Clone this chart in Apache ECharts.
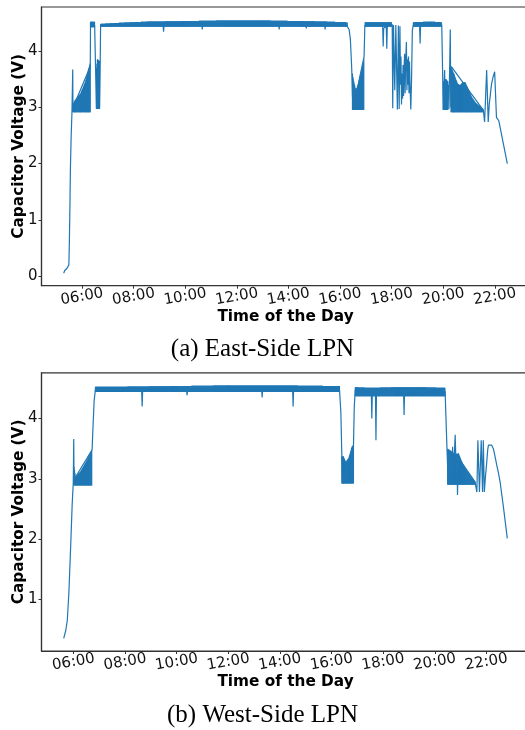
<!DOCTYPE html>
<html>
<head>
<meta charset="utf-8">
<script src="https://cdn.jsdelivr.net/npm/echarts@6/dist/echarts.min.js"></script>
<style>
  html, body { margin: 0; padding: 0; background: #fff; }
  #chart { width: 525px; height: 730px; }
</style>
</head>
<body>
<div id="chart"></div>
<script>
// Time of day in decimal hours, capacitor voltage in volts.
const hourTicks = [6, 8, 10, 12, 14, 16, 18, 20, 22];
const eastVoltTicks = [0, 1, 2, 3, 4];
const westVoltTicks = [1, 2, 3, 4];

// East-side node: sampled trace [hour, volts]
const eastTrace = [
  [5.29, 0.05], [5.33, 0.10], [5.38, 0.13], [5.42, 0.14], [5.46, 0.16], [5.49, 0.20],
  [5.51, 0.60], [5.53, 1.20], [5.55, 1.90], [5.58, 2.50], [5.61, 2.90], [5.64, 3.67],
  [5.65, 2.92], [5.70, 3.05], [6.30, 3.70], [6.32, 3.78], [6.33, 4.49], [6.40, 4.47],
  [6.49, 4.45], [6.52, 3.80], [6.56, 2.98], [6.62, 3.40], [6.68, 3.00], [6.70, 3.60],
  [6.72, 4.44], [7.50, 4.46], [9.14, 4.47], [9.16, 4.34], [9.18, 4.47], [10.64, 4.48],
  [10.66, 4.38], [10.68, 4.48], [13.62, 4.49], [13.64, 4.38], [13.66, 4.49], [14.67, 4.49],
  [14.69, 4.40], [14.71, 4.49], [15.40, 4.48], [15.42, 4.38], [15.44, 4.48], [16.26, 4.45],
  [16.35, 4.38], [16.40, 4.20], [16.45, 3.70], [16.48, 3.20], [16.50, 2.96], [16.93, 3.90],
  [16.96, 4.45], [17.65, 4.46], [17.67, 4.08], [17.69, 4.40], [17.79, 4.44], [17.81, 4.04],
  [17.83, 4.45], [18.02, 4.47], [18.04, 2.98], [18.07, 4.46], [18.12, 3.30], [18.16, 4.46],
  [18.22, 2.96], [18.26, 4.45], [18.29, 2.97], [18.32, 4.44], [18.34, 3.40], [18.36, 3.90],
  [18.38, 3.05], [18.40, 3.60], [18.42, 3.15], [18.44, 3.75], [18.46, 3.20], [18.48, 3.70],
  [18.50, 3.95], [18.52, 3.25], [18.54, 3.80], [18.57, 4.16], [18.59, 3.30], [18.61, 3.85],
  [18.63, 3.40], [18.65, 3.90], [18.67, 3.25], [18.69, 3.81], [18.71, 3.40], [18.74, 2.96],
  [18.77, 3.50], [18.80, 4.37], [18.84, 4.46], [19.08, 4.47], [19.10, 4.13], [19.12, 4.46],
  [19.94, 4.47], [19.97, 3.70], [20.00, 2.95], [20.05, 3.66], [20.08, 2.96], [20.19, 3.40],
  [20.22, 2.97], [20.27, 4.38], [20.29, 3.00], [20.31, 3.72], [21.55, 2.95], [21.60, 2.74],
  [21.68, 3.66], [21.74, 2.74], [21.78, 3.05], [21.87, 3.42], [21.93, 3.54], [21.99, 3.63],
  [22.04, 3.66], [22.06, 2.82], [22.12, 2.80], [22.15, 2.76], [22.48, 2.00]
];

// East-side node: dense-noise stretches, each spanning from a floor voltage
// up to its upper envelope [hour, volts].
const eastBandFloors = [2.91, 4.42, 2.97, 4.43, 2.95, 4.43, 4.43, 2.95, 2.91];
const eastBandTops = [
  [[5.64, 3.05], [5.74, 3.13], [5.94, 3.24], [6.13, 3.45], [6.26, 3.69], [6.32, 3.78]],
  [[6.33, 4.52], [6.49, 4.52]],
  [[6.56, 3.70], [6.60, 3.85], [6.68, 3.82]],
  [[6.72, 4.48], [7.50, 4.50], [8.50, 4.52], [10.00, 4.53], [11.50, 4.54], [13.00, 4.54],
   [14.50, 4.53], [15.50, 4.52], [16.20, 4.51], [16.28, 4.50]],
  [[16.48, 3.60], [16.51, 3.50], [16.61, 3.30], [16.70, 3.40], [16.77, 3.54], [16.88, 3.75], [16.93, 3.90]],
  [[16.97, 4.51], [17.60, 4.51], [18.00, 4.51]],
  [[18.84, 4.51], [19.50, 4.52], [19.94, 4.51]],
  [[20.00, 3.45], [20.10, 3.50], [20.19, 3.45]],
  [[20.30, 3.72], [20.42, 3.58], [20.55, 3.42], [20.65, 3.39], [20.76, 3.45], [20.85, 3.44],
   [20.93, 3.36], [21.10, 3.18], [21.25, 3.08], [21.40, 3.02], [21.55, 2.97]]
];

// West-side node: sampled trace [hour, volts]
const westTrace = [
  [5.62, 0.35], [5.66, 0.38], [5.70, 0.48], [5.76, 0.65], [5.82, 1.10], [5.88, 1.76],
  [5.95, 2.59], [5.99, 2.92], [6.01, 3.66], [6.02, 2.90], [6.08, 3.03], [6.72, 3.48],
  [6.75, 3.80], [6.80, 4.30], [6.85, 4.48], [8.64, 4.48], [8.66, 4.20], [8.68, 4.47],
  [10.38, 4.48], [10.40, 4.39], [10.42, 4.48], [13.29, 4.50], [13.31, 4.35], [13.33, 4.50],
  [14.49, 4.50], [14.51, 4.20], [14.53, 4.50], [16.31, 4.47], [16.36, 4.10], [16.40, 3.35],
  [16.42, 2.93], [16.85, 3.56], [16.88, 4.20], [16.92, 4.48], [17.54, 4.45], [17.56, 4.00],
  [17.58, 4.44], [17.70, 4.44], [17.72, 3.64], [17.74, 4.44], [18.79, 4.46], [18.81, 4.06],
  [18.83, 4.46], [20.40, 4.45], [20.47, 3.53], [20.52, 2.92], [20.66, 3.00], [20.69, 3.53],
  [20.72, 3.00], [20.79, 3.73], [20.83, 3.10], [20.86, 3.42], [20.88, 2.73], [20.91, 3.35],
  [21.56, 2.95], [21.63, 2.78], [21.67, 3.64], [21.73, 2.78], [21.80, 3.64], [21.85, 2.78],
  [21.88, 3.64], [21.92, 2.78], [21.96, 3.02], [22.01, 3.26], [22.05, 3.48], [22.08, 3.56],
  [22.14, 3.59], [22.20, 3.56], [22.27, 3.50], [22.33, 3.38], [22.40, 3.23], [22.47, 3.09],
  [22.53, 2.95], [22.66, 2.53], [22.81, 2.01]
];

// West-side node: dense-noise stretches, floor voltage and upper envelope.
const westBandFloors = [2.89, 4.44, 2.92, 4.37, 2.90];
const westBandTops = [
  [[6.02, 3.20], [6.08, 3.03], [6.27, 3.12], [6.46, 3.26], [6.59, 3.37], [6.72, 3.48]],
  [[6.85, 4.53], [8.00, 4.53], [10.00, 4.54], [12.00, 4.55], [14.00, 4.55], [16.31, 4.54]],
  [[16.40, 3.37], [16.46, 3.37], [16.55, 3.28], [16.66, 3.34], [16.79, 3.53], [16.85, 3.56]],
  [[16.92, 4.52], [17.50, 4.51], [18.50, 4.52], [19.50, 4.52], [20.40, 4.51]],
  [[20.50, 3.50], [20.66, 3.45], [20.80, 3.40], [20.92, 3.42], [21.05, 3.28], [21.18, 3.17],
   [21.44, 3.01], [21.56, 2.95]]
];

const BLUE = '#1f77b4';
const FRAME = '#333333';
const SANS = 'DejaVu Sans';

function hourLabel(v) {
  const h = Math.round(v);
  return (h < 10 ? '0' : '') + h + ':00';
}

function xAxisFor(gridIndex, min, max) {
  return {
    type: 'value', gridIndex, min, max,
    axisLine: { show: true, onZero: false, lineStyle: { color: FRAME, width: 1.2 } },
    axisTick: { show: true, customValues: hourTicks, length: 3, lineStyle: { color: FRAME } },
    axisLabel: {
      customValues: hourTicks, formatter: hourLabel, rotate: 10,
      align: 'center', verticalAlign: 'middle', margin: 11,
      fontFamily: SANS, fontSize: 15, color: '#111'
    },
    splitLine: { show: false },
    name: 'Time of the Day', nameLocation: 'middle', nameGap: 24, nameMoveOverlap: false,
    nameTextStyle: { fontFamily: SANS, fontWeight: 'bold', fontSize: 15.3, color: '#000' }
  };
}

function yAxisFor(gridIndex, min, max, ticks) {
  return {
    type: 'value', gridIndex, min, max,
    axisLine: { show: true, onZero: false, lineStyle: { color: FRAME, width: 1.2 } },
    axisTick: { show: true, customValues: ticks, length: 3, lineStyle: { color: FRAME } },
    axisLabel: {
      customValues: ticks, margin: 4,
      fontFamily: SANS, fontSize: 15, color: '#111'
    },
    splitLine: { show: false },
    name: 'Capacitor Voltage (V)', nameLocation: 'middle', nameGap: 15, nameRotate: 90,
    nameMoveOverlap: false,
    nameTextStyle: { fontFamily: SANS, fontWeight: 'bold', fontSize: 15.3, color: '#000' }
  };
}

function traceSeries(idx, data) {
  return {
    type: 'line', xAxisIndex: idx, yAxisIndex: idx, data,
    showSymbol: false, symbol: 'none', animation: false, silent: true,
    lineStyle: { color: BLUE, width: 1.2 }, z: 3
  };
}

// Noisy stretches are drawn the way the raw signal looks: tightly packed
// vertical strokes from the floor voltage up to the envelope, sampled every
// half pixel along the envelope segments.
function bandSeries(idx, floors, tops) {
  return {
    type: 'custom', xAxisIndex: idx, yAxisIndex: idx, clip: true,
    animation: false, silent: true, z: 2,
    data: tops.map((top, k) => [top[0][0], floors[k], k]),
    renderItem: function (params, api) {
      const k = api.value(2);
      const top = tops[k];
      const yFloor = api.coord([top[0][0], floors[k]])[1];
      const pts = top.map(p => api.coord([p[0], p[1]]));
      const children = [];
      for (let s = 0; s < pts.length - 1; s++) {
        const x0 = pts[s][0], y0 = pts[s][1], x1 = pts[s + 1][0], y1 = pts[s + 1][1];
        const span = Math.max(x1 - x0, 0.001);
        for (let x = x0; x <= x1 + 0.01; x += 0.5) {
          const y = y0 + (Math.min(x, x1) - x0) / span * (y1 - y0);
          children.push({
            type: 'line',
            shape: { x1: x, y1: yFloor, x2: x, y2: y },
            style: { stroke: BLUE, lineWidth: 1.2 }
          });
        }
      }
      return { type: 'group', children };
    }
  };
}

const chart = echarts.init(document.getElementById('chart'), null, { renderer: 'canvas' });
chart.setOption({
  backgroundColor: '#fff',
  animation: false,
  title: [
    { text: '(a) East-Side LPN', left: 'center', top: 337, padding: 0,
      textStyle: { fontFamily: 'Liberation Serif', fontWeight: 'normal', fontSize: 25, color: '#000' } },
    { text: '(b) West-Side LPN', left: 'center', top: 703, padding: 0,
      textStyle: { fontFamily: 'Liberation Serif', fontWeight: 'normal', fontSize: 25, color: '#000' } }
  ],
  grid: [
    { left: 41.5, top: 7, width: 488, height: 278.7, show: true, borderColor: FRAME, borderWidth: 1.2,
      containLabel: false, outerBoundsMode: 'none' },
    { left: 41.5, top: 372.8, width: 488, height: 278.2, show: true, borderColor: FRAME, borderWidth: 1.2,
      containLabel: false, outerBoundsMode: 'none' }
  ],
  xAxis: [xAxisFor(0, 4.43, 23.34), xAxisFor(1, 4.76, 23.67)],
  yAxis: [yAxisFor(0, -0.17, 4.78, eastVoltTicks), yAxisFor(1, 0.14, 4.76, westVoltTicks)],
  series: [
    bandSeries(0, eastBandFloors, eastBandTops), traceSeries(0, eastTrace),
    bandSeries(1, westBandFloors, westBandTops), traceSeries(1, westTrace)
  ]
});
</script>
</body>
</html>
